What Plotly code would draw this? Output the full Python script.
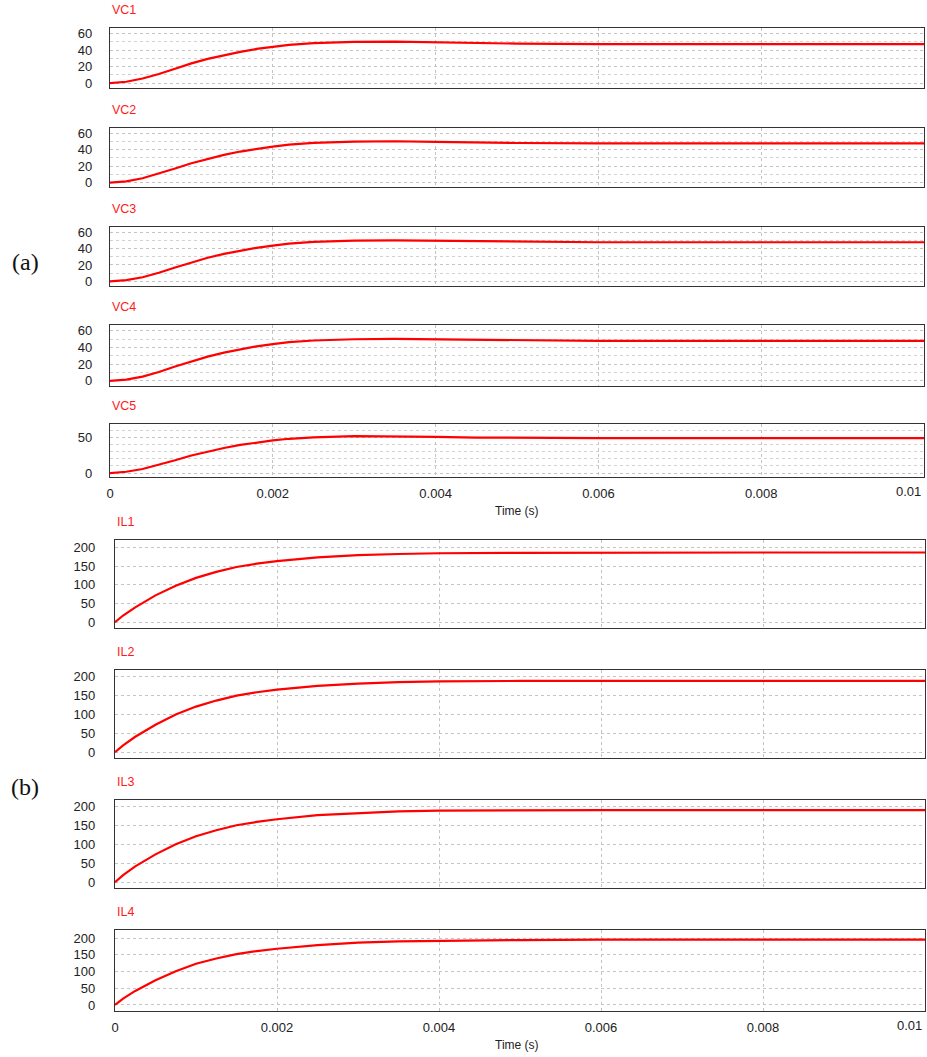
import plotly.graph_objects as go

W, H = 927, 1057

# ---------------- data ----------------
t_vc = [0, 0.0002, 0.0004, 0.0006, 0.0008, 0.001, 0.0012, 0.0014, 0.0016, 0.0018,
        0.002, 0.0022, 0.0025, 0.003, 0.0035, 0.004, 0.0045, 0.005, 0.006, 0.007,
        0.008, 0.009, 0.01]
VC1 = [0, 1.6, 5.5, 11, 17.5, 24, 29.5, 34, 38, 41.5, 44, 46.5, 48.5, 50, 50.5, 49.5,
       48.5, 48, 47.5, 47.5, 47.5, 47.5, 47.5]
VC2 = [0, 1.5, 5.3, 10.8, 17.2, 23.5, 29, 33.8, 37.8, 41.2, 43.8, 46.3, 48.3, 49.8, 50.3,
       49.5, 48.8, 48.2, 47.8, 47.8, 47.8, 47.8, 47.8]
VC3 = [0, 1.4, 5.0, 10.5, 17, 23.2, 28.8, 33.5, 37.5, 41, 43.6, 46, 48.2, 49.8, 50.2,
       49.6, 48.8, 48.3, 47.8, 47.8, 47.8, 47.8, 47.8]
VC4 = [0, 1.5, 5.2, 10.7, 17.2, 23.5, 29, 33.8, 37.8, 41.3, 44, 46.3, 48.3, 49.8, 50.2,
       49.8, 48.8, 48.2, 47.8, 47.8, 47.8, 47.8, 47.8]
VC5 = [0, 1.8, 5.6, 11.2, 17.8, 24.5, 30.2, 35, 39.2, 42.8, 45.5, 47.8, 49.8, 51.5, 51.5,
       50.5, 49.5, 49, 48.8, 48.8, 48.8, 48.8, 48.8]

t_il = [0, 0.0001, 0.00025, 0.0005, 0.00075, 0.001, 0.00125, 0.0015, 0.00175, 0.002,
        0.0025, 0.003, 0.0035, 0.004, 0.005, 0.006, 0.007, 0.008, 0.009, 0.01]
IL1 = [0, 18, 40, 72, 98, 119, 135, 148, 157, 164, 174, 180, 183, 185, 186, 187, 187, 187, 187, 187]
IL2 = [0, 18, 41, 73, 100, 121, 137, 150, 159, 166, 176, 182, 186, 188, 189, 189, 189, 189, 189, 189]
IL3 = [0, 19, 42, 74, 101, 122, 138, 151, 160, 167, 178, 184, 188, 190, 191, 191, 191, 191, 191, 191]
IL4 = [0, 19, 42, 74, 101, 123, 139, 152, 161, 168, 179, 186, 190, 192, 194, 195, 195, 195, 195, 195]

x_ticks = [0, 0.002, 0.004, 0.006, 0.008, 0.01]
x_ticktext = ["0", "0.002", "0.004", "0.006", "0.008", ""]   # last label drawn right-aligned below
x_last_label = "0.01"
vc_ticks = [0, 20, 40, 60]
vc5_ticks = [0, 50]
il_ticks = [0, 50, 100, 150, 200]

# ---------------- layout geometry (pixels) ----------------
panels = [
    # name, t, y, top, bottom, left, right, yrange, yticks, minor dtick, last
    ("VC1", t_vc, VC1, 28, 88, 110, 924, [-6, 67], vc_ticks, 10, False),
    ("VC2", t_vc, VC2, 127.7, 187.3, 110, 924, [-5.7, 66.8], vc_ticks, 10, False),
    ("VC3", t_vc, VC3, 226.7, 286, 110, 924, [-5.7, 66.8], vc_ticks, 10, False),
    ("VC4", t_vc, VC4, 325, 385.7, 110, 924, [-5.7, 66.8], vc_ticks, 10, False),
    ("VC5", t_vc, VC5, 424.3, 477, 110, 924, [-5.5, 68], vc5_ticks, 10, True),
    ("IL1", t_il, IL1, 540, 628, 115, 925, [-15.5, 220.5], il_ticks, None, False),
    ("IL2", t_il, IL2, 670, 758.3, 115, 925, [-16, 218], il_ticks, None, False),
    ("IL3", t_il, IL3, 800, 888.3, 115, 925, [-16, 218], il_ticks, None, False),
    ("IL4", t_il, IL4, 930, 1011, 115, 925, [-18, 224], il_ticks, None, True),
]

fig = go.Figure()
layout = {}
annotations = []
FONT = "Liberation Sans, Arial, sans-serif"
GRID = "#c4c4c4"

for i, (name, tt, yy, top, bot, left, right, yr, yt, minor, last) in enumerate(panels, start=1):
    xa = "x" if i == 1 else f"x{i}"
    ya = "y" if i == 1 else f"y{i}"
    fig.add_trace(go.Scatter(x=tt, y=yy, mode="lines", xaxis=xa, yaxis=ya,
                             line=dict(color="#ff0000", width=2.2), showlegend=False,
                             hoverinfo="skip"))
    xkey = "xaxis" if i == 1 else f"xaxis{i}"
    ykey = "yaxis" if i == 1 else f"yaxis{i}"
    layout[xkey] = dict(
        domain=[left / W, right / W], anchor=ya, range=[0, 0.01],
        tickvals=x_ticks, ticktext=x_ticktext, showticklabels=last,
        ticks="", showgrid=True, gridcolor=GRID, griddash="dot", gridwidth=1,
        showline=True, mirror=True, linecolor="#333333", linewidth=1.3,
        zeroline=False, tickfont=dict(family=FONT, size=13, color="#222222"),
        ticklabelstandoff=4, automargin=False, fixedrange=True,
    )
    ydict = dict(
        domain=[1 - bot / H, 1 - top / H], anchor=xa, range=yr,
        tickvals=yt, ticks="", showgrid=True, gridcolor=GRID, griddash="dot",
        gridwidth=1, showline=True, mirror=True, linecolor="#333333", linewidth=1.3,
        zeroline=False, tickfont=dict(family=FONT, size=13, color="#222222"),
        ticklabelstandoff=14 if name.startswith("VC") else 16,
        automargin=False, fixedrange=True,
    )
    if minor:
        ydict["minor"] = dict(dtick=minor, showgrid=True, gridcolor="#d2d2d2",
                              griddash="dot", gridwidth=1)
    layout[ykey] = ydict
    annotations.append(dict(
        text=name, xref=f"{xa} domain", yref=f"{ya} domain", x=0, y=1,
        xanchor="left", yanchor="bottom", yshift=9, showarrow=False,
        font=dict(family=FONT, size=12.5, color="#ff1a1a"),
    ))
    if last:
        annotations.append(dict(
            text=x_last_label, xref=xa, yref=f"{ya} domain", x=x_ticks[-1], y=0,
            xanchor="right", yanchor="middle", yshift=-14, xshift=-1, showarrow=False,
            font=dict(family=FONT, size=13, color="#222222"),
        ))
        annotations.append(dict(
            text="Time (s)", xref="paper", yref=f"{ya} domain", x=517 / W, y=0,
            xanchor="center", yanchor="top", yshift=-25, showarrow=False,
            font=dict(family=FONT, size=12, color="#222222"),
        ))

annotations.append(dict(text="(a)", xref="paper", yref="paper", x=25 / W, y=1 - 262 / H,
                        xanchor="center", yanchor="middle", showarrow=False,
                        font=dict(family="Liberation Serif, Times New Roman, serif", size=24,
                                  color="#111111")))
annotations.append(dict(text="(b)", xref="paper", yref="paper", x=25 / W, y=1 - 787 / H,
                        xanchor="center", yanchor="middle", showarrow=False,
                        font=dict(family="Liberation Serif, Times New Roman, serif", size=24,
                                  color="#111111")))

fig.update_layout(
    width=W, height=H, autosize=False,
    margin=dict(l=0, r=0, t=0, b=0, autoexpand=False),
    paper_bgcolor="white", plot_bgcolor="white",
    annotations=annotations,
    **layout,
)

fig.write_html(
    "out.html",
    config={"displayModeBar": False, "responsive": False},
    post_script="document.body.style.margin='0';document.body.style.overflow='hidden';",
)
